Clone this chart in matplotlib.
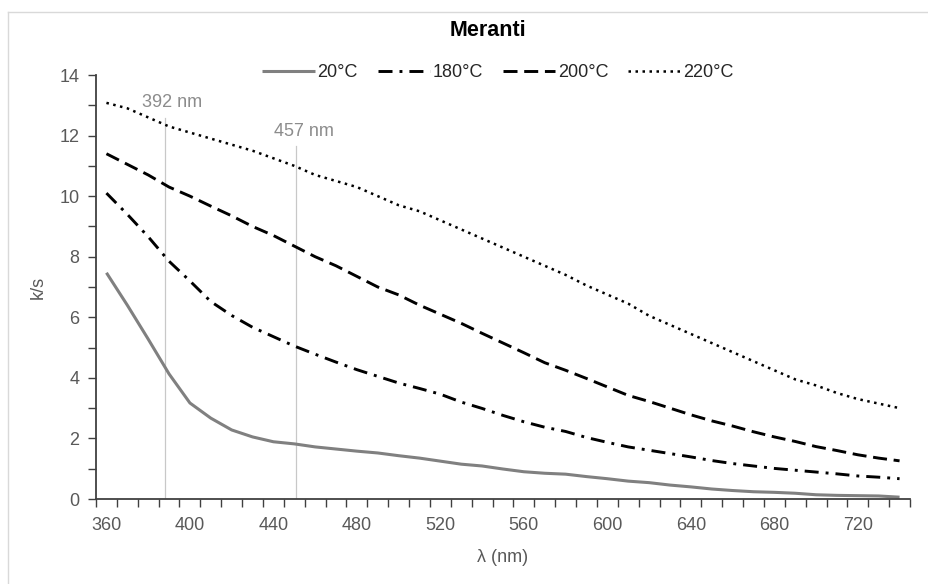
import numpy as np
import matplotlib
matplotlib.use('Agg')
import matplotlib.pyplot as plt
from matplotlib import font_manager
from matplotlib.lines import Line2D

# ── Data ──────────────────────────────────────────────────────────────────────
wavelength = list(range(360, 750, 10))

k_s_20 = [7.47, 6.40, 5.28, 4.13, 3.17, 2.67, 2.28, 2.05, 1.89, 1.82,
          1.72, 1.65, 1.58, 1.52, 1.43, 1.35, 1.25, 1.15, 1.09, 0.99,
          0.90, 0.85, 0.82, 0.74, 0.67, 0.59, 0.54, 0.46, 0.40, 0.33,
          0.28, 0.24, 0.22, 0.19, 0.14, 0.12, 0.11, 0.10, 0.06]

k_s_180 = [10.10, 9.40, 8.66, 7.85, 7.20, 6.52, 6.06, 5.67, 5.36, 5.05,
           4.78, 4.52, 4.27, 4.05, 3.83, 3.65, 3.46, 3.20, 2.99, 2.76,
           2.55, 2.37, 2.23, 2.03, 1.87, 1.72, 1.61, 1.50, 1.39, 1.27,
           1.17, 1.09, 1.01, 0.95, 0.89, 0.83, 0.76, 0.72, 0.67]

k_s_200 = [11.40, 11.05, 10.70, 10.30, 10.00, 9.67, 9.35, 9.00, 8.70, 8.35,
           8.00, 7.70, 7.35, 7.00, 6.74, 6.40, 6.10, 5.80, 5.47, 5.15,
           4.83, 4.50, 4.25, 3.98, 3.70, 3.42, 3.22, 3.00, 2.78, 2.58,
           2.41, 2.22, 2.05, 1.90, 1.73, 1.60, 1.46, 1.35, 1.26]

k_s_220 = [13.08, 12.90, 12.60, 12.30, 12.10, 11.90, 11.70, 11.50, 11.25, 11.00,
           10.70, 10.50, 10.30, 10.00, 9.70, 9.50, 9.20, 8.90, 8.60, 8.30,
           8.00, 7.70, 7.40, 7.05, 6.75, 6.45, 6.05, 5.75, 5.45, 5.15,
           4.85, 4.55, 4.25, 3.95, 3.75, 3.50, 3.30, 3.15, 3.00]

series_labels = ['20°C', '180°C', '200°C', '220°C']

marker_nm    = [388, 451]          # where the guide lines are drawn
marker_top   = [12.57, 11.65]
marker_texts = ['392 nm', '457 nm']

# ── Fonts ─────────────────────────────────────────────────────────────────────
names = {f.name for f in font_manager.fontManager.ttflist}
if 'Liberation Sans Narrow' in names:
    FONT = ['Liberation Sans Narrow', 'DejaVu Sans']
    FS = 14
else:
    FONT = ['Liberation Sans', 'DejaVu Sans']
    FS = 13
plt.rcParams['font.family'] = FONT

TXT = '#595959'
AX  = '#404040'

# ── Plot ──────────────────────────────────────────────────────────────────────
fig = plt.figure(figsize=(9.29, 5.84), dpi=100)
W, H = 929, 584
ax = fig.add_axes([96 / W, 85 / H, (910 - 96) / W, (499 - 75) / H])

lw = 2.1
ax.plot(wavelength, k_s_20, color='#808080', lw=2.2, solid_capstyle='butt',
        label=series_labels[0])
ax.plot(wavelength, k_s_180, color='black', lw=lw, dashes=(4.8, 2.4, 1.0, 2.4),
        label=series_labels[1])
ax.plot(wavelength, k_s_200, color='black', lw=lw, dashes=(4.8, 2.3),
        label=series_labels[2])
ax.plot(wavelength, k_s_220, color='black', lw=1.8, dashes=(1.0, 1.8),
        label=series_labels[3])

for xv, top, txt, ty in zip(marker_nm, marker_top, marker_texts, [13.1, 12.15]):
    ax.plot([xv, xv], [0, top], color='#c8c8c8', lw=0.9, zorder=0)
    ax.text(xv + 3.5, ty, txt, color='#8c8c8c', fontsize=FS,
            ha='center', va='center')

ax.set_xlim(355, 745)
ax.set_ylim(0, 14)
ax.set_xticks(range(360, 721, 40))
ax.set_xticks(np.arange(355, 746, 10), minor=True)
ax.set_yticks(range(0, 15, 2))
ax.set_yticks(range(0, 15, 1), minor=True)

ax.tick_params(axis='x', which='major', length=0, pad=13,
               labelsize=FS, labelcolor=TXT)
ax.tick_params(axis='x', which='minor', length=6, width=1, color=AX,
               direction='out')
ax.tick_params(axis='y', which='both', length=6, width=1, color=AX,
               direction='out', labelsize=FS, labelcolor=TXT, pad=6)

for s in ['top', 'right']:
    ax.spines[s].set_visible(False)
for s in ['left', 'bottom']:
    ax.spines[s].set_color(AX)
    ax.spines[s].set_linewidth(1.3)

ax.set_xlabel('λ (nm)', fontsize=FS, color=TXT, labelpad=11)
ax.set_ylabel('k/s', fontsize=FS, color=TXT, labelpad=9)

fig.text(488 / W, 1 - 31 / H, 'Meranti', fontsize=15.5, fontweight='bold',
         ha='center', va='center', color='black')

ax.legend(loc='center', bbox_to_anchor=(498 / W, 1 - 73 / H),
          bbox_transform=fig.transFigure, ncol=4, frameon=False,
          fontsize=FS, handlelength=2.9, columnspacing=1.1, handletextpad=0.15,
          labelcolor='#262626')

# light chart-area border
fig.add_artist(Line2D([8 / W, 8 / W], [0, 1 - 12 / H], color='#d9d9d9', lw=1))
fig.add_artist(Line2D([8 / W, 1], [1 - 12 / H, 1 - 12 / H], color='#d9d9d9', lw=1))

fig.savefig('out.png', dpi=100)
plt.close(fig)
